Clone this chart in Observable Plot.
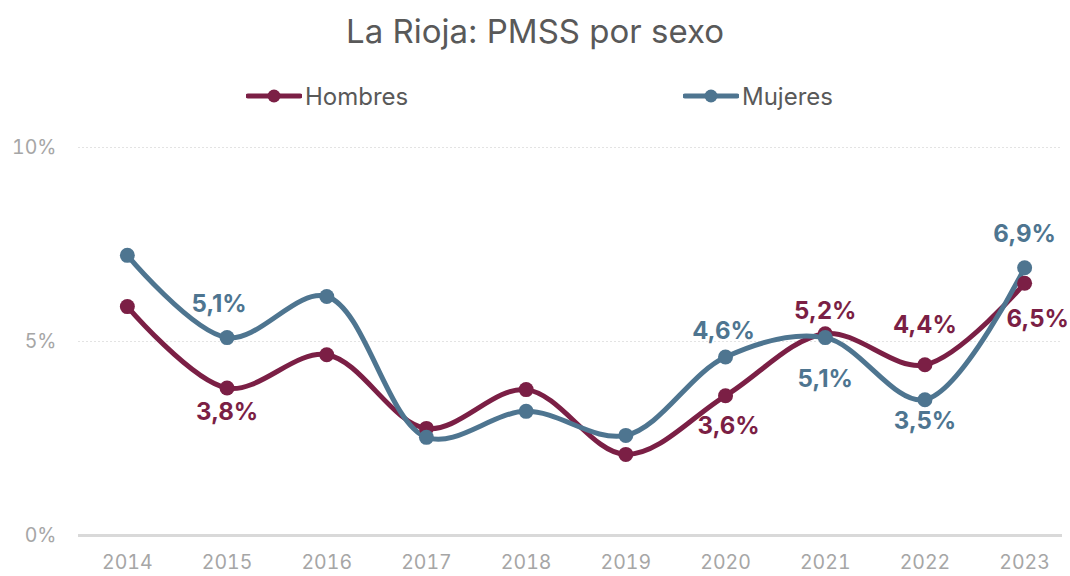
<!DOCTYPE html>
<html>
<head>
<meta charset="utf-8">
<script src="https://cdn.jsdelivr.net/npm/d3@7"></script>
<script src="https://cdn.jsdelivr.net/npm/@observablehq/plot@0.6"></script>
<style>
  html, body { margin: 0; padding: 0; background: #fff; }
  #wrap { width: 1070px; height: 576px; position: relative; font-family: Inter, Roboto, "Open Sans", sans-serif; }
  #title { height: 62px; line-height: 62px; text-align: center; font-size: 33px; color: #595959; padding-left: 0px; }
  #legend { height: 58px; position: relative; font-size: 24px; color: #595959; }
  .li { position: absolute; top: 20px; display: flex; align-items: center; height: 28px; }
  .li svg { display: block; margin-right: 3px; }
</style>
</head>
<body>
<div id="wrap">
  <div id="title">La Rioja: PMSS por sexo</div>
  <div id="legend"></div>
  <div id="chart"></div>
</div>
<script>
const years = [2014, 2015, 2016, 2017, 2018, 2019, 2020, 2021, 2022, 2023];
const hombres = [5.9, 3.8, 4.66, 2.76, 3.76, 2.09, 3.6, 5.2, 4.4, 6.5];
const mujeres = [7.22, 5.1, 6.16, 2.53, 3.2, 2.58, 4.6, 5.1, 3.5, 6.9];
const seriesNames = ["Hombres", "Mujeres"];
const seriesColors = ["#7B1F45", "#4E7590"];
const yTicks = [0, 5, 10];
const labelYears = [2015, 2020, 2021, 2022, 2023];

const data = [];
years.forEach((y, i) => {
  data.push({year: y, value: hombres[i], serie: "Hombres"});
  data.push({year: y, value: mujeres[i], serie: "Mujeres"});
});

// label placement offsets (px) per series/year
const offsets = {
  Hombres: {2015: [0, 24], 2020: [3, 30], 2021: [0, -22], 2022: [0, -39], 2023: [13, 36]},
  Mujeres: {2015: [-8, -33], 2020: [-2, -26], 2021: [0, 42], 2022: [0, 22], 2023: [0, -33]}
};

// legend
const legend = document.getElementById("legend");
const legendX = [246, 683];
seriesNames.forEach((s, i) => {
  const d = document.createElement("div");
  d.className = "li";
  d.style.left = legendX[i] + "px";
  d.innerHTML = `<svg width="56" height="16"><line x1="2" y1="8" x2="54" y2="8" stroke="${seriesColors[i]}" stroke-width="5" stroke-linecap="round"/><circle cx="28" cy="8" r="6.5" fill="${seriesColors[i]}"/></svg><span>${s}</span>`;
  legend.appendChild(d);
});

const fmt = v => v.toFixed(1).replace(".", ",") + "%";

const textMarks = [];
seriesNames.forEach((s, si) => {
  labelYears.forEach(yr => {
    const [dx, dy] = offsets[s][yr];
    textMarks.push(Plot.text(data.filter(d => d.serie === s && d.year === yr), {
      x: "year", y: "value", text: d => fmt(d.value), dx, dy,
      fill: seriesColors[si], fontSize: 24, fontWeight: "bold"
    }));
  });
});

const chart = Plot.plot({
  width: 1070,
  height: 456,
  marginTop: 27,
  marginBottom: 41,
  marginLeft: 78,
  marginRight: 8,
  style: {fontFamily: "Inter, Roboto, sans-serif", background: "#fff"},
  x: {type: "linear", domain: [2013.51, 2023.38], ticks: years, tickFormat: d => String(d), label: null},
  y: {domain: [0, 10], ticks: yTicks, tickFormat: d => d + "%", label: null},
  color: {domain: seriesNames, range: seriesColors},
  marks: [
    Plot.ruleY(yTicks.filter(t => t > 0), {stroke: "#e3e3e3", strokeWidth: 1, strokeDasharray: "2,2"}),
    Plot.ruleY([0], {stroke: "#d9d9d9", strokeWidth: 3}),
    Plot.axisX({ticks: years, tickFormat: d => String(d), tickSize: 0, tickPadding: 20, fontSize: 19.5, fill: "#a6a6a6", label: null}),
    Plot.axisY({ticks: yTicks, tickFormat: d => d + "%", tickSize: 0, tickPadding: 22, fontSize: 19.5, fill: "#a6a6a6", label: null}),
    Plot.line(data, {x: "year", y: "value", stroke: "serie", z: "serie", strokeWidth: 5, curve: "catmull-rom", strokeLinecap: "round"}),
    Plot.dot(data, {x: "year", y: "value", fill: "serie", r: 7.5}),
    ...textMarks
  ]
});
document.getElementById("chart").appendChild(chart);
</script>
</body>
</html>
